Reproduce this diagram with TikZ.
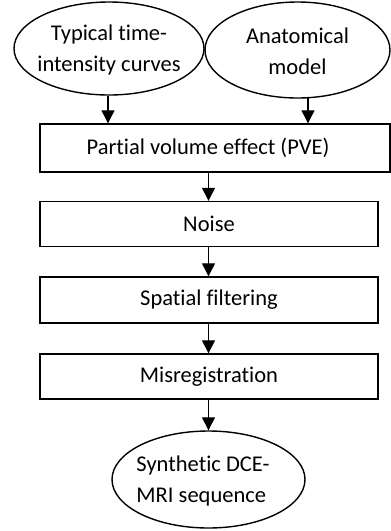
\documentclass[tikz,border=0pt]{standalone}
\usepackage{fontspec}
\setmainfont{Carlito}[Ligatures=NoCommon]
\usetikzlibrary{arrows.meta,shapes.geometric}
\begin{document}
\begin{tikzpicture}[x=1pt,y=-1pt,
  font=\fontsize{22.5pt}{31pt}\selectfont,
  line width=1.4pt,
  boxstyle/.style={draw, rectangle, inner sep=0pt},
  ovalstyle/.style={draw, ellipse, inner sep=0pt},
  txt/.style={align=center, inner sep=0pt},
  arr/.style={-{Triangle[length=13pt,width=13pt]}, line width=1.3pt}]
\useasboundingbox (0,0) rectangle (391,531);
% top ellipses
\node[ovalstyle, minimum width=190pt, minimum height=93pt] (tic) at (109,48.5) {};
\node[txt] at (109,49.5) {Typical time-\\intensity curves};
\node[ovalstyle, minimum width=185pt, minimum height=96pt] (anat) at (297.5,50) {};
\node[txt] at (297.5,51) {Anatomical\\model};
% boxes
\node[boxstyle, minimum width=350pt, minimum height=48pt] (pve) at (215,148) {};
\node[txt] at (208,148) {Partial volume effect (PVE)};
\node[boxstyle, minimum width=338pt, minimum height=45pt] (noise) at (209,224) {Noise};
\node[boxstyle, minimum width=338pt, minimum height=46pt] (spat) at (209,300) {Spatial filtering};
\node[boxstyle, minimum width=338pt, minimum height=45pt] (mis) at (209,376.5) {Misregistration};
% bottom ellipse
\node[ovalstyle, minimum width=193pt, minimum height=97pt] (syn) at (208.5,479.5) {};
\node[txt, align=left] at (203,480.5) {Synthetic DCE-\\MRI sequence};
% arrows
\draw[arr] (tic.south -| 108,0) -- (pve.north -| 108,0);
\draw[arr] (308,97.5) -- (pve.north -| 308,0);
\draw[arr] (pve.south -| 208.5,0) -- (noise.north -| 208.5,0);
\draw[arr] (noise.south -| 208.5,0) -- (spat.north -| 208.5,0);
\draw[arr] (spat.south -| 208.5,0) -- (mis.north -| 208.5,0);
\draw[arr] (mis.south -| 208.5,0) -- (syn.north -| 208.5,0);
\end{tikzpicture}
\end{document}
